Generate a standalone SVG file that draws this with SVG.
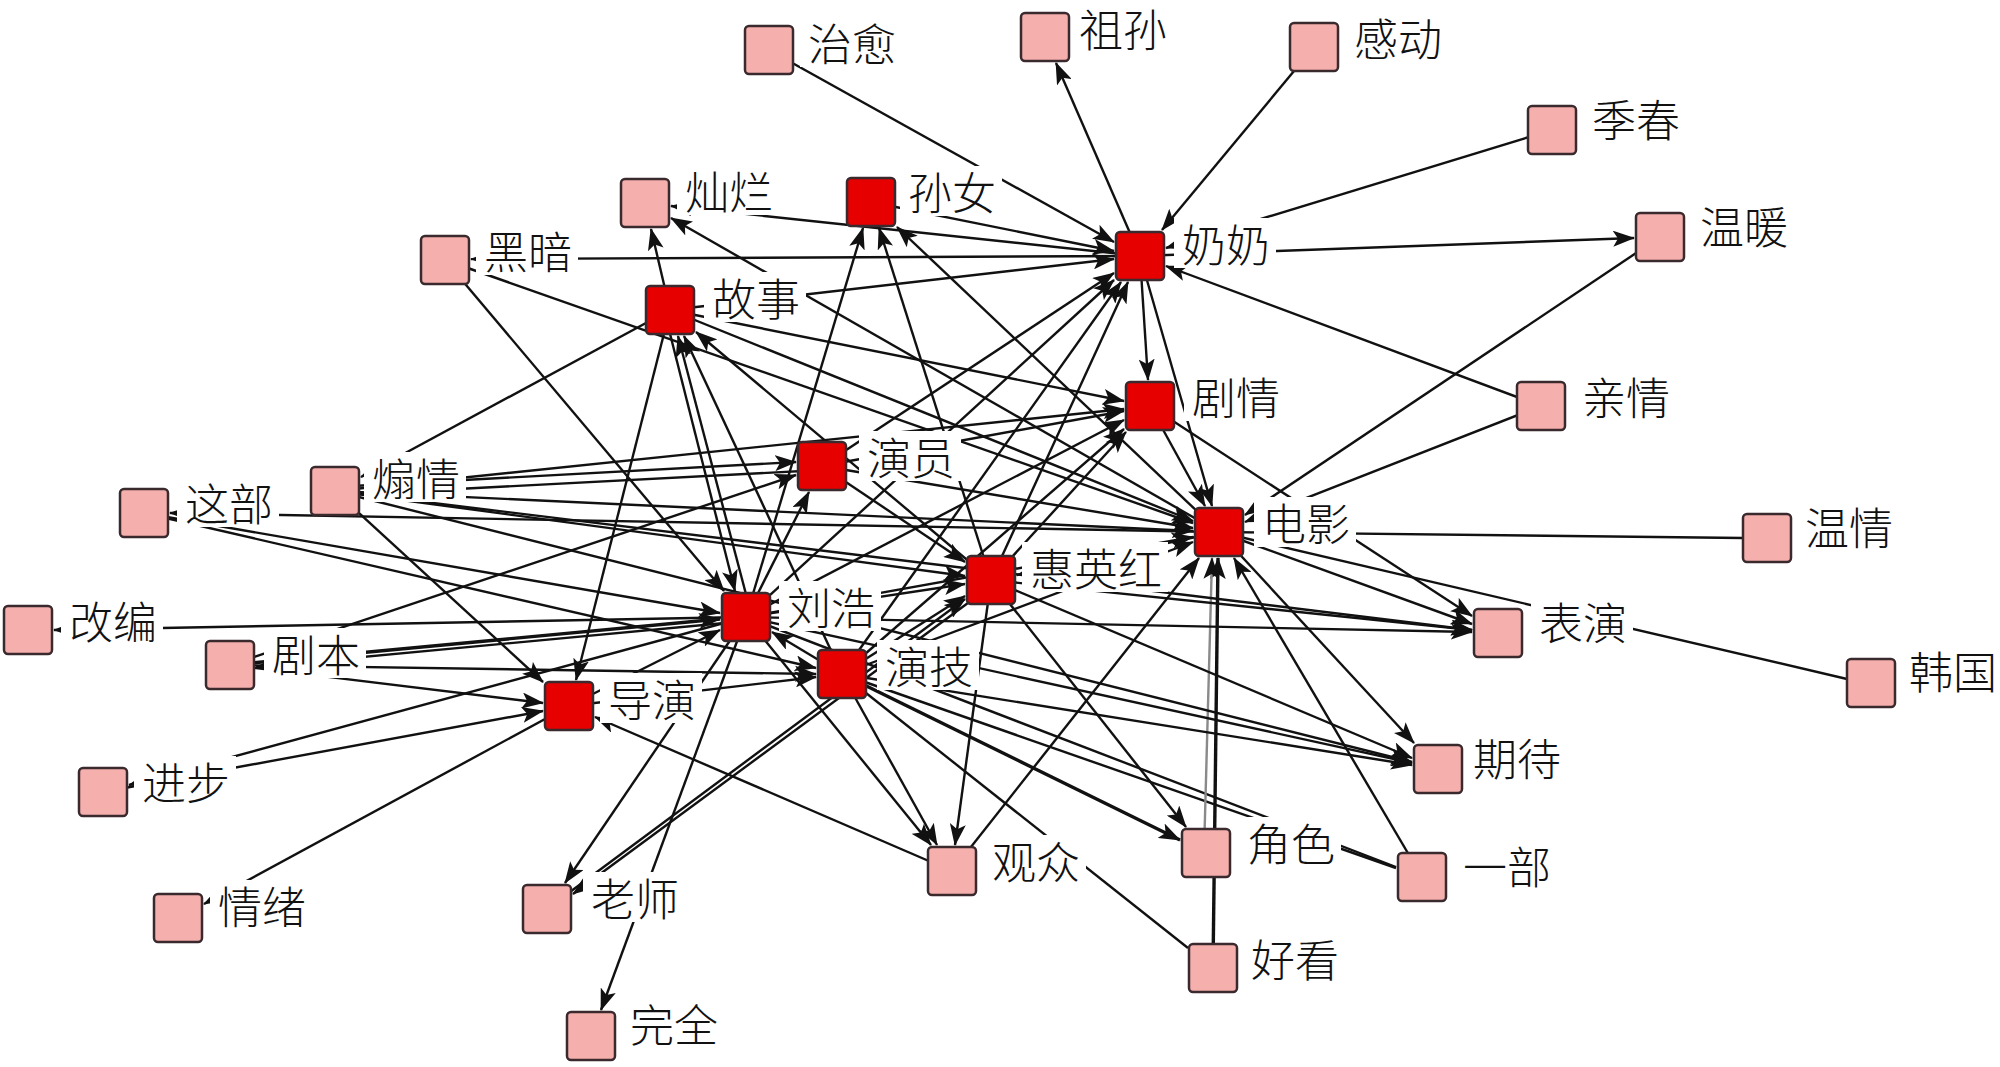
<svg xmlns="http://www.w3.org/2000/svg" width="2000" height="1067" viewBox="0 0 2000 1067">
<style>
.e{stroke:#111;stroke-width:2.4;fill:none}
.a{marker-end:url(#ah)}
.t{stroke-width:3.4}
.g{stroke:#8a8a8a}
.p{fill:#f5b0ad;stroke:#3a2a2e;stroke-width:2.5}
.r{fill:#e60000;stroke:#3a2a2e;stroke-width:2.5}
.bg{fill:#ffffff}
.l{font-family:"Noto Sans CJK SC","Noto Sans",sans-serif;font-size:44px;font-weight:300;fill:#111;dominant-baseline:central}
</style>
<defs>
<marker id="ah" viewBox="0 0 22 16" refX="21" refY="8" markerWidth="22" markerHeight="16" markerUnits="userSpaceOnUse" orient="auto">
<path d="M0,0 L22,8 L0,16 L5,8 z" fill="#111"/>
</marker>
</defs>
<rect width="2000" height="1067" fill="#ffffff"/>
<g id="edges">
<line class="e a" x1="769" y1="50" x2="1114" y2="242"/>
<line class="e a" x1="1140" y1="256" x2="1056" y2="63"/>
<line class="e a" x1="1314" y1="47" x2="1162" y2="230"/>
<line class="e a" x1="1552" y1="130" x2="1166" y2="248"/>
<line class="e a" x1="1140" y1="256" x2="1634" y2="238"/>
<line class="e a" x1="1541" y1="406" x2="1166" y2="266"/>
<line class="e a" x1="1140" y1="256" x2="1148" y2="380"/>
<line class="e a" x1="1140" y1="256" x2="1212" y2="506"/>
<line class="e a" x1="1140" y1="256" x2="471" y2="259"/>
<line class="e a" x1="445" y1="260" x2="724" y2="591"/>
<line class="e a" x1="670" y1="310" x2="651" y2="229"/>
<line class="e a" x1="1219" y1="532" x2="671" y2="218"/>
<line class="e a" x1="1140" y1="256" x2="671" y2="206"/>
<line class="e a" x1="871" y1="202" x2="1114" y2="251"/>
<line class="e a" x1="670" y1="310" x2="1114" y2="259"/>
<line class="e a" x1="670" y1="310" x2="1193" y2="521"/>
<line class="e a" x1="670" y1="310" x2="1124" y2="401"/>
<line class="e a" x1="670" y1="310" x2="361" y2="477"/>
<line class="e a" x1="670" y1="310" x2="576" y2="680"/>
<line class="e a" x1="752" y1="617" x2="678" y2="336"/>
<line class="e a" x1="664" y1="310" x2="735" y2="591"/>
<line class="e a" x1="842" y1="674" x2="684" y2="336"/>
<line class="e a" x1="991" y1="580" x2="696" y2="332"/>
<line class="e a" x1="746" y1="617" x2="863" y2="228"/>
<line class="e a" x1="991" y1="580" x2="879" y2="228"/>
<line class="e a" x1="1219" y1="532" x2="897" y2="227"/>
<line class="e a" x1="822" y1="466" x2="1124" y2="411"/>
<line class="e a" x1="335" y1="487" x2="796" y2="462"/>
<line class="e a" x1="822" y1="470" x2="361" y2="494"/>
<line class="e a" x1="335" y1="491" x2="1124" y2="409"/>
<line class="e a" x1="335" y1="491" x2="1193" y2="531"/>
<line class="e a" x1="335" y1="491" x2="965" y2="576"/>
<line class="e a" x1="335" y1="491" x2="543" y2="682"/>
<line class="e a" x1="822" y1="466" x2="1193" y2="528"/>
<line class="e a" x1="746" y1="617" x2="809" y2="492"/>
<line class="e a" x1="822" y1="466" x2="965" y2="562"/>
<line class="e a" x1="1219" y1="532" x2="170" y2="513"/>
<line class="e a" x1="144" y1="513" x2="720" y2="613"/>
<line class="e a" x1="144" y1="513" x2="816" y2="668"/>
<line class="e a" x1="746" y1="617" x2="54" y2="630"/>
<line class="e a t" x1="230" y1="665" x2="720" y2="619"/>
<line class="e a" x1="746" y1="621" x2="256" y2="667"/>
<line class="e a" x1="230" y1="665" x2="816" y2="674"/>
<line class="e a" x1="230" y1="665" x2="543" y2="703"/>
<line class="e a" x1="230" y1="665" x2="796" y2="475"/>
<line class="e a" x1="746" y1="617" x2="129" y2="785"/>
<line class="e a" x1="103" y1="792" x2="543" y2="711"/>
<line class="e a" x1="569" y1="706" x2="204" y2="904"/>
<line class="e a" x1="746" y1="617" x2="565" y2="883"/>
<line class="e a" x1="746" y1="617" x2="601" y2="1010"/>
<line class="e a" x1="547" y1="909" x2="965" y2="599"/>
<line class="e a" x1="991" y1="586" x2="573" y2="894"/>
<line class="e a" x1="952" y1="871" x2="595" y2="717"/>
<line class="e a" x1="952" y1="871" x2="1199" y2="558"/>
<line class="e" x1="842" y1="674" x2="1188" y2="948"/>
<line class="e a" x1="746" y1="617" x2="931" y2="845"/>
<line class="e a" x1="842" y1="674" x2="937" y2="845"/>
<line class="e a" x1="991" y1="580" x2="955" y2="845"/>
<line class="e a t" x1="842" y1="674" x2="1180" y2="840"/>
<line class="e a" x1="991" y1="580" x2="1186" y2="827"/>
<line class="e" x1="746" y1="617" x2="1396" y2="867"/>
<line class="e" x1="842" y1="674" x2="1396" y2="868"/>
<line class="e a t" x1="1213" y1="968" x2="1218" y2="558"/>
<line class="e a g" x1="1204" y1="853" x2="1212" y2="558"/>
<line class="e a" x1="1422" y1="877" x2="1234" y2="558"/>
<line class="e a" x1="1219" y1="532" x2="1414" y2="743"/>
<line class="e a" x1="842" y1="674" x2="1412" y2="765"/>
<line class="e a" x1="746" y1="617" x2="1412" y2="763"/>
<line class="e a" x1="991" y1="580" x2="1412" y2="758"/>
<line class="e a" x1="746" y1="617" x2="1472" y2="632"/>
<line class="e a" x1="991" y1="580" x2="1472" y2="630"/>
<line class="e a" x1="1150" y1="406" x2="1472" y2="616"/>
<line class="e a" x1="1219" y1="532" x2="1472" y2="624"/>
<line class="e" x1="1219" y1="532" x2="1847" y2="679"/>
<line class="e" x1="1219" y1="532" x2="1743" y2="538"/>
<line class="e a" x1="1541" y1="406" x2="1245" y2="522"/>
<line class="e a" x1="1660" y1="237" x2="1245" y2="515"/>
<line class="e a" x1="1150" y1="406" x2="1205" y2="506"/>
<line class="e a" x1="991" y1="580" x2="1128" y2="282"/>
<line class="e a" x1="991" y1="580" x2="1126" y2="432"/>
<line class="e a" x1="1219" y1="532" x2="1017" y2="575"/>
<line class="e a" x1="746" y1="617" x2="1114" y2="280"/>
<line class="e a" x1="746" y1="617" x2="1124" y2="420"/>
<line class="e a" x1="746" y1="617" x2="1193" y2="537"/>
<line class="e a" x1="746" y1="617" x2="965" y2="584"/>
<line class="e a" x1="842" y1="674" x2="1121" y2="282"/>
<line class="e a" x1="842" y1="674" x2="1124" y2="429"/>
<line class="e a" x1="842" y1="674" x2="965" y2="596"/>
<line class="e a" x1="842" y1="674" x2="1193" y2="542"/>
<line class="e a" x1="842" y1="674" x2="772" y2="632"/>
<line class="e a" x1="569" y1="706" x2="720" y2="630"/>
<line class="e a" x1="569" y1="706" x2="816" y2="677"/>
<line class="e a" x1="822" y1="466" x2="1114" y2="273"/>
<line class="e a" x1="445" y1="260" x2="1193" y2="523"/>
<line class="e a" x1="335" y1="491" x2="1412" y2="762"/>
<line class="e a" x1="335" y1="491" x2="1472" y2="630"/>
</g>
<g id="n-zhiyu"><rect class="p" x="745" y="26" width="48" height="48" rx="4"/><rect class="bg" x="800" y="17" width="102" height="50"/><text class="l" x="808" y="42">治愈</text></g>
<g id="n-zusun"><rect class="p" x="1021" y="13" width="48" height="48" rx="4"/><rect class="bg" x="1071" y="3" width="102" height="50"/><text class="l" x="1079" y="28">祖孙</text></g>
<g id="n-gandong"><rect class="p" x="1290" y="23" width="48" height="48" rx="4"/><rect class="bg" x="1346" y="12" width="102" height="50"/><text class="l" x="1354" y="37">感动</text></g>
<g id="n-jichun"><rect class="p" x="1528" y="106" width="48" height="48" rx="4"/><rect class="bg" x="1584" y="93" width="102" height="50"/><text class="l" x="1592" y="118">季春</text></g>
<g id="n-canlan"><rect class="p" x="621" y="179" width="48" height="48" rx="4"/><rect class="bg" x="677" y="165" width="102" height="50"/><text class="l" x="685" y="190">灿烂</text></g>
<g id="n-sunnv"><rect class="r" x="847" y="178" width="48" height="48" rx="4"/><rect class="bg" x="900" y="166" width="102" height="50"/><text class="l" x="908" y="191">孙女</text></g>
<g id="n-heian"><rect class="p" x="421" y="236" width="48" height="48" rx="4"/><rect class="bg" x="476" y="225" width="102" height="50"/><text class="l" x="484" y="250">黑暗</text></g>
<g id="n-nainai"><rect class="r" x="1116" y="232" width="48" height="48" rx="4"/><rect class="bg" x="1174" y="218" width="102" height="50"/><text class="l" x="1182" y="243">奶奶</text></g>
<g id="n-wennuan"><rect class="p" x="1636" y="213" width="48" height="48" rx="4"/><rect class="bg" x="1692" y="200" width="102" height="50"/><text class="l" x="1700" y="225">温暖</text></g>
<g id="n-gushi"><rect class="r" x="646" y="286" width="48" height="48" rx="4"/><rect class="bg" x="704" y="272" width="102" height="50"/><text class="l" x="712" y="297">故事</text></g>
<g id="n-juqing"><rect class="r" x="1126" y="382" width="48" height="48" rx="4"/><rect class="bg" x="1184" y="371" width="102" height="50"/><text class="l" x="1192" y="396">剧情</text></g>
<g id="n-qinqing"><rect class="p" x="1517" y="382" width="48" height="48" rx="4"/><rect class="bg" x="1574" y="371" width="102" height="50"/><text class="l" x="1582" y="396">亲情</text></g>
<g id="n-yanyuan"><rect class="r" x="798" y="442" width="48" height="48" rx="4"/><rect class="bg" x="859" y="431" width="102" height="50"/><text class="l" x="867" y="456">演员</text></g>
<g id="n-shanqing"><rect class="p" x="311" y="467" width="48" height="48" rx="4"/><rect class="bg" x="364" y="452" width="102" height="50"/><text class="l" x="372" y="477">煽情</text></g>
<g id="n-zhebu"><rect class="p" x="120" y="489" width="48" height="48" rx="4"/><rect class="bg" x="177" y="477" width="102" height="50"/><text class="l" x="185" y="502">这部</text></g>
<g id="n-dianying"><rect class="r" x="1195" y="508" width="48" height="48" rx="4"/><rect class="bg" x="1254" y="497" width="102" height="50"/><text class="l" x="1262" y="522">电影</text></g>
<g id="n-wenqing"><rect class="p" x="1743" y="514" width="48" height="48" rx="4"/><rect class="bg" x="1797" y="501" width="102" height="50"/><text class="l" x="1805" y="526">温情</text></g>
<g id="n-huiyinghong"><rect class="r" x="967" y="556" width="48" height="48" rx="4"/><rect class="bg" x="1022" y="542" width="146" height="50"/><text class="l" x="1030" y="567">惠英红</text></g>
<g id="n-liuhao"><rect class="r" x="722" y="593" width="48" height="48" rx="4"/><rect class="bg" x="779" y="581" width="102" height="50"/><text class="l" x="787" y="606">刘浩</text></g>
<g id="n-gaibian"><rect class="p" x="4" y="606" width="48" height="48" rx="4"/><rect class="bg" x="61" y="595" width="102" height="50"/><text class="l" x="69" y="620">改编</text></g>
<g id="n-biaoyan"><rect class="p" x="1474" y="609" width="48" height="48" rx="4"/><rect class="bg" x="1531" y="596" width="102" height="50"/><text class="l" x="1539" y="621">表演</text></g>
<g id="n-juben"><rect class="p" x="206" y="641" width="48" height="48" rx="4"/><rect class="bg" x="264" y="628" width="102" height="50"/><text class="l" x="272" y="653">剧本</text></g>
<g id="n-yanji"><rect class="r" x="818" y="650" width="48" height="48" rx="4"/><rect class="bg" x="877" y="640" width="102" height="50"/><text class="l" x="885" y="665">演技</text></g>
<g id="n-hanguo"><rect class="p" x="1847" y="659" width="48" height="48" rx="4"/><rect class="bg" x="1901" y="645" width="99" height="50"/><text class="l" x="1909" y="670">韩国</text></g>
<g id="n-daoyan"><rect class="r" x="545" y="682" width="48" height="48" rx="4"/><rect class="bg" x="600" y="673" width="102" height="50"/><text class="l" x="608" y="698">导演</text></g>
<g id="n-qidai"><rect class="p" x="1414" y="745" width="48" height="48" rx="4"/><rect class="bg" x="1465" y="732" width="102" height="50"/><text class="l" x="1473" y="757">期待</text></g>
<g id="n-jinbu"><rect class="p" x="79" y="768" width="48" height="48" rx="4"/><rect class="bg" x="134" y="756" width="102" height="50"/><text class="l" x="142" y="781">进步</text></g>
<g id="n-guanzhong"><rect class="p" x="928" y="847" width="48" height="48" rx="4"/><rect class="bg" x="984" y="835" width="102" height="50"/><text class="l" x="992" y="860">观众</text></g>
<g id="n-juese"><rect class="p" x="1182" y="829" width="48" height="48" rx="4"/><rect class="bg" x="1239" y="817" width="102" height="50"/><text class="l" x="1247" y="842">角色</text></g>
<g id="n-yibu"><rect class="p" x="1398" y="853" width="48" height="48" rx="4"/><rect class="bg" x="1455" y="840" width="102" height="50"/><text class="l" x="1463" y="865">一部</text></g>
<g id="n-laoshi"><rect class="p" x="523" y="885" width="48" height="48" rx="4"/><rect class="bg" x="583" y="872" width="102" height="50"/><text class="l" x="591" y="897">老师</text></g>
<g id="n-qingxu"><rect class="p" x="154" y="894" width="48" height="48" rx="4"/><rect class="bg" x="210" y="880" width="102" height="50"/><text class="l" x="218" y="905">情绪</text></g>
<g id="n-haokan"><rect class="p" x="1189" y="944" width="48" height="48" rx="4"/><rect class="bg" x="1243" y="933" width="102" height="50"/><text class="l" x="1251" y="958">好看</text></g>
<g id="n-wanquan"><rect class="p" x="567" y="1012" width="48" height="48" rx="4"/><rect class="bg" x="622" y="998" width="102" height="50"/><text class="l" x="630" y="1023">完全</text></g>
</svg>
